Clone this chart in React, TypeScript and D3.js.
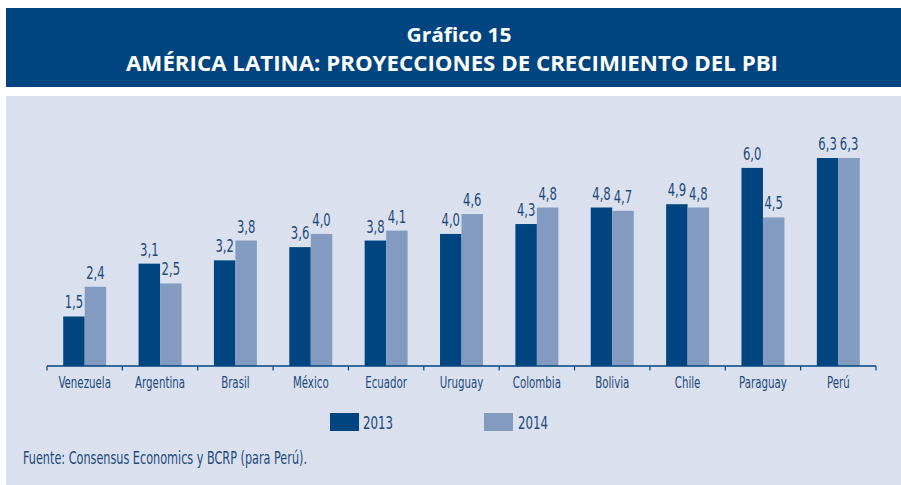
import React from "react";
import * as d3 from "d3";

const categories = ["Venezuela", "Argentina", "Brasil", "México", "Ecuador", "Uruguay", "Colombia", "Bolivia", "Chile", "Paraguay", "Perú"];
const series2013 = [1.5, 3.1, 3.2, 3.6, 3.8, 4.0, 4.3, 4.8, 4.9, 6.0, 6.3];
const series2014 = [2.4, 2.5, 3.8, 4.0, 4.1, 4.6, 4.8, 4.7, 4.8, 4.5, 6.3];
const seriesNames = ["2013", "2014"];

const W = 901;
const H = 485;
const DARK = "#00457f";
const LIGHT = "#839bc0";
const PANEL = "#dae0ee";
const TEXT = "#1d4a7c";
const NARROW = "'Liberation Sans Narrow', 'DejaVu Sans Condensed', 'Open Sans', sans-serif";
const BOLD = "'Open Sans', 'Liberation Sans', sans-serif";

export default function App() {
  const x = d3.scaleBand<string>().domain(categories).range([47, 876]).paddingInner(0.43).paddingOuter(0.215);
  const xs = d3.scaleBand<string>().domain(seriesNames).range([0, x.bandwidth()]).padding(0);
  const y = d3.scaleLinear().domain([0, 6.3]).range([366, 158]);
  const step = x.step();
  const tickXs = categories.map((c) => (x(c) as number) - (step * 0.43) / 2);
  tickXs.push(876);
  const fmt = (v: number) => v.toFixed(1).replace(".", ",");
  const data = [series2013, series2014];
  const colors = [DARK, LIGHT];

  return (
    <svg width={W} height={H} style={{ position: "absolute", left: 0, top: 0, background: "#fff" }}>
      <rect x={6} y={8} width={W - 6} height={79} fill={DARK} />
      <text x={459} y={41.5} textAnchor="middle" fill="#fff" fontFamily={BOLD} fontWeight="bold" fontSize={20} textLength={105} lengthAdjust="spacingAndGlyphs">
        Gráfico 15
      </text>
      <text x={452} y={70.5} textAnchor="middle" fill="#fff" fontFamily={BOLD} fontWeight="bold" fontSize={21} textLength={652} lengthAdjust="spacingAndGlyphs">
        AMÉRICA LATINA: PROYECCIONES DE CRECIMIENTO DEL PBI
      </text>
      <rect x={6} y={96} width={W - 6} height={H - 96} fill={PANEL} />

      {categories.map((c, i) => (
        <g key={c}>
          {data.map((s, k) => {
            const bx = (x(c) as number) + (xs(seriesNames[k]) as number);
            const bw = xs.bandwidth();
            return (
              <g key={k}>
                <rect x={bx} y={y(s[i])} width={bw} height={y(0) - y(s[i])} fill={colors[k]} />
                <g transform={`translate(${bx + bw / 2},${y(s[i]) - 8}) scale(0.76,1)`}>
                  <text x={0} y={0} textAnchor="middle" fill={TEXT} fontFamily={NARROW} fontSize={17}>
                    {fmt(s[i])}
                  </text>
                </g>
              </g>
            );
          })}
          <g transform={`translate(${(x(c) as number) + x.bandwidth() / 2},388) scale(0.76,1)`}>
            <text x={0} y={0} textAnchor="middle" fill={TEXT} fontFamily={NARROW} fontSize={15}>
              {c}
            </text>
          </g>
        </g>
      ))}

      <line x1={47} x2={876} y1={366} y2={366} stroke={DARK} strokeWidth={1.5} />
      {tickXs.map((t, i) => (
        <line key={i} x1={t} x2={t} y1={366} y2={370.5} stroke={DARK} strokeWidth={1.2} />
      ))}

      {seriesNames.map((n, k) => (
        <g key={n}>
          <rect x={330 + k * 154} y={413} width={29} height={18} fill={colors[k]} />
          <text x={363 + k * 155} y={428.5} fill={TEXT} fontFamily={NARROW} fontSize={18} textLength={30} lengthAdjust="spacingAndGlyphs">
            {n}
          </text>
        </g>
      ))}

      <text x={23} y={464} fill={TEXT} fontFamily={NARROW} fontSize={17} textLength={284} lengthAdjust="spacingAndGlyphs">
        Fuente: Consensus Economics y BCRP (para Perú).
      </text>
    </svg>
  );
}
